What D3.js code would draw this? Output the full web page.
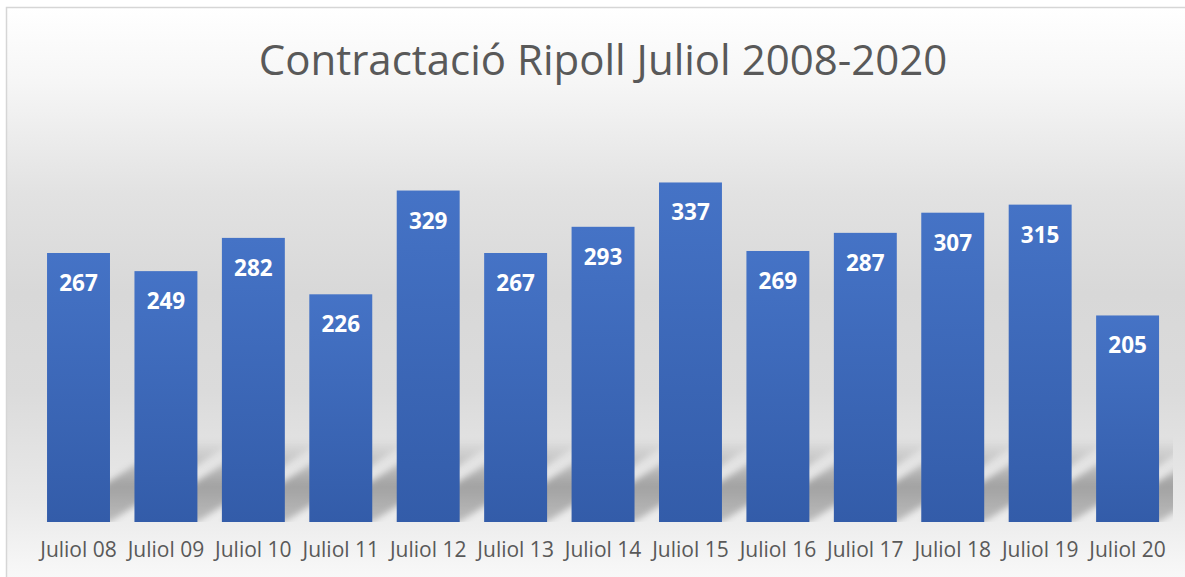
<!DOCTYPE html>
<html>
<head>
<meta charset="utf-8">
<script src="https://cdn.jsdelivr.net/npm/d3@7"></script>
<style>
  html, body { margin: 0; padding: 0; background: #fff; }
  svg { display: block; }
</style>
</head>
<body>
<div id="chart"></div>
<script>

var categories = ["Juliol 08", "Juliol 09", "Juliol 10", "Juliol 11", "Juliol 12", "Juliol 13", "Juliol 14",
                  "Juliol 15", "Juliol 16", "Juliol 17", "Juliol 18", "Juliol 19", "Juliol 20"];
var values = [267, 249, 282, 226, 329, 267, 293, 337, 269, 287, 307, 315, 205];
var title = "Contractació Ripoll Juliol 2008-2020";

var width = 1185, height = 577;
var baseY = 522;

var svg = d3.select("#chart").append("svg")
  .attr("width", width)
  .attr("height", height);

var defs = svg.append("defs");

// background of the chart: white on top, gray in the middle, light at the bottom
var bg = defs.append("linearGradient")
  .attr("id", "bg").attr("x1", 0).attr("y1", 0).attr("x2", 0).attr("y2", 1);
[[0, "#ffffff"], [0.12, "#f6f6f6"], [0.3, "#e2e2e2"], [0.46, "#d8d8d8"], [0.62, "#dbdbdb"],
 [0.8, "#e9e9e9"], [0.9, "#f6f6f6"], [1, "#ffffff"]].forEach(function(s) {
  bg.append("stop").attr("offset", s[0]).attr("stop-color", s[1]);
});

var barGrad = defs.append("linearGradient")
  .attr("id", "barGrad").attr("x1", 0).attr("y1", 0).attr("x2", 0).attr("y2", 1);
barGrad.append("stop").attr("offset", 0).attr("stop-color", "#4573c6");
barGrad.append("stop").attr("offset", 1).attr("stop-color", "#335ca9");

var shGrad = defs.append("linearGradient")
  .attr("id", "shGrad").attr("x1", 0).attr("y1", 1).attr("x2", 0).attr("y2", 0);
shGrad.append("stop").attr("offset", 0).attr("stop-color", "#000").attr("stop-opacity", 0.2);
shGrad.append("stop").attr("offset", 0.45).attr("stop-color", "#000").attr("stop-opacity", 0.3);
shGrad.append("stop").attr("offset", 1).attr("stop-color", "#000").attr("stop-opacity", 0.02);

defs.append("filter").attr("id", "blur")
  .attr("x", "-20%").attr("y", "-20%").attr("width", "140%").attr("height", "140%")
  .append("feGaussianBlur").attr("stdDeviation", 3);

defs.append("clipPath").attr("id", "plotClip")
  .append("rect").attr("x", 7).attr("y", 100).attr("width", 1166).attr("height", baseY - 100);

svg.append("rect")
  .attr("x", 6.5).attr("y", 7.5)
  .attr("width", 1220).attr("height", 620)
  .attr("fill", "url(#bg)")
  .attr("stroke", "#d6d6d6")
  .attr("stroke-width", 1.5);

var x = d3.scaleBand()
  .domain(categories)
  .range([34.8, 1171.3])
  .paddingInner(0.28)
  .paddingOuter(0.14);

var y = d3.scaleLinear()
  .domain([0, 400])
  .range([baseY, baseY - 403]);

// perspective shadows behind the bars
var shH = 80, shDx = 123;
svg.append("g")
  .attr("clip-path", "url(#plotClip)")
  .selectAll("path")
  .data(categories)
  .enter().append("path")
  .attr("d", function(d) {
    var x0 = x(d), x1 = x(d) + x.bandwidth();
    return "M" + x0 + "," + baseY + "L" + x1 + "," + baseY +
           "L" + (x1 + shDx) + "," + (baseY - shH) + "L" + (x0 + shDx) + "," + (baseY - shH) + "Z";
  })
  .attr("fill", "url(#shGrad)")
  .attr("filter", "url(#blur)");

svg.selectAll(".bar")
  .data(values)
  .enter().append("rect")
  .attr("class", "bar")
  .attr("x", function(d, i) { return x(categories[i]); })
  .attr("y", function(d) { return y(d); })
  .attr("width", x.bandwidth())
  .attr("height", function(d) { return y(0) - y(d); })
  .attr("fill", "url(#barGrad)");

svg.selectAll(".val")
  .data(values)
  .enter().append("text")
  .attr("class", "val")
  .attr("x", function(d, i) { return x(categories[i]) + x.bandwidth() / 2; })
  .attr("y", function(d) { return y(d) + 38; })
  .attr("text-anchor", "middle")
  .attr("font-family", "'Open Sans', sans-serif")
  .attr("font-weight", "bold")
  .attr("font-size", 22.5)
  .attr("fill", "#ffffff")
  .text(function(d) { return d; });

var xAxis = svg.append("g")
  .attr("transform", "translate(0," + baseY + ")")
  .call(d3.axisBottom(x).tickSize(0).tickPadding(35));
xAxis.select(".domain").remove();
xAxis.selectAll("text")
  .attr("font-family", "'Open Sans', sans-serif")
  .attr("font-size", 21)
  .attr("fill", "#595959")
  .attr("dy", 0);

svg.append("text")
  .attr("x", 603)
  .attr("y", 75)
  .attr("text-anchor", "middle")
  .attr("font-family", "'Open Sans', sans-serif")
  .attr("font-size", 42)
  .attr("fill", "#595959")
  .text(title);

</script>
</body>
</html>
